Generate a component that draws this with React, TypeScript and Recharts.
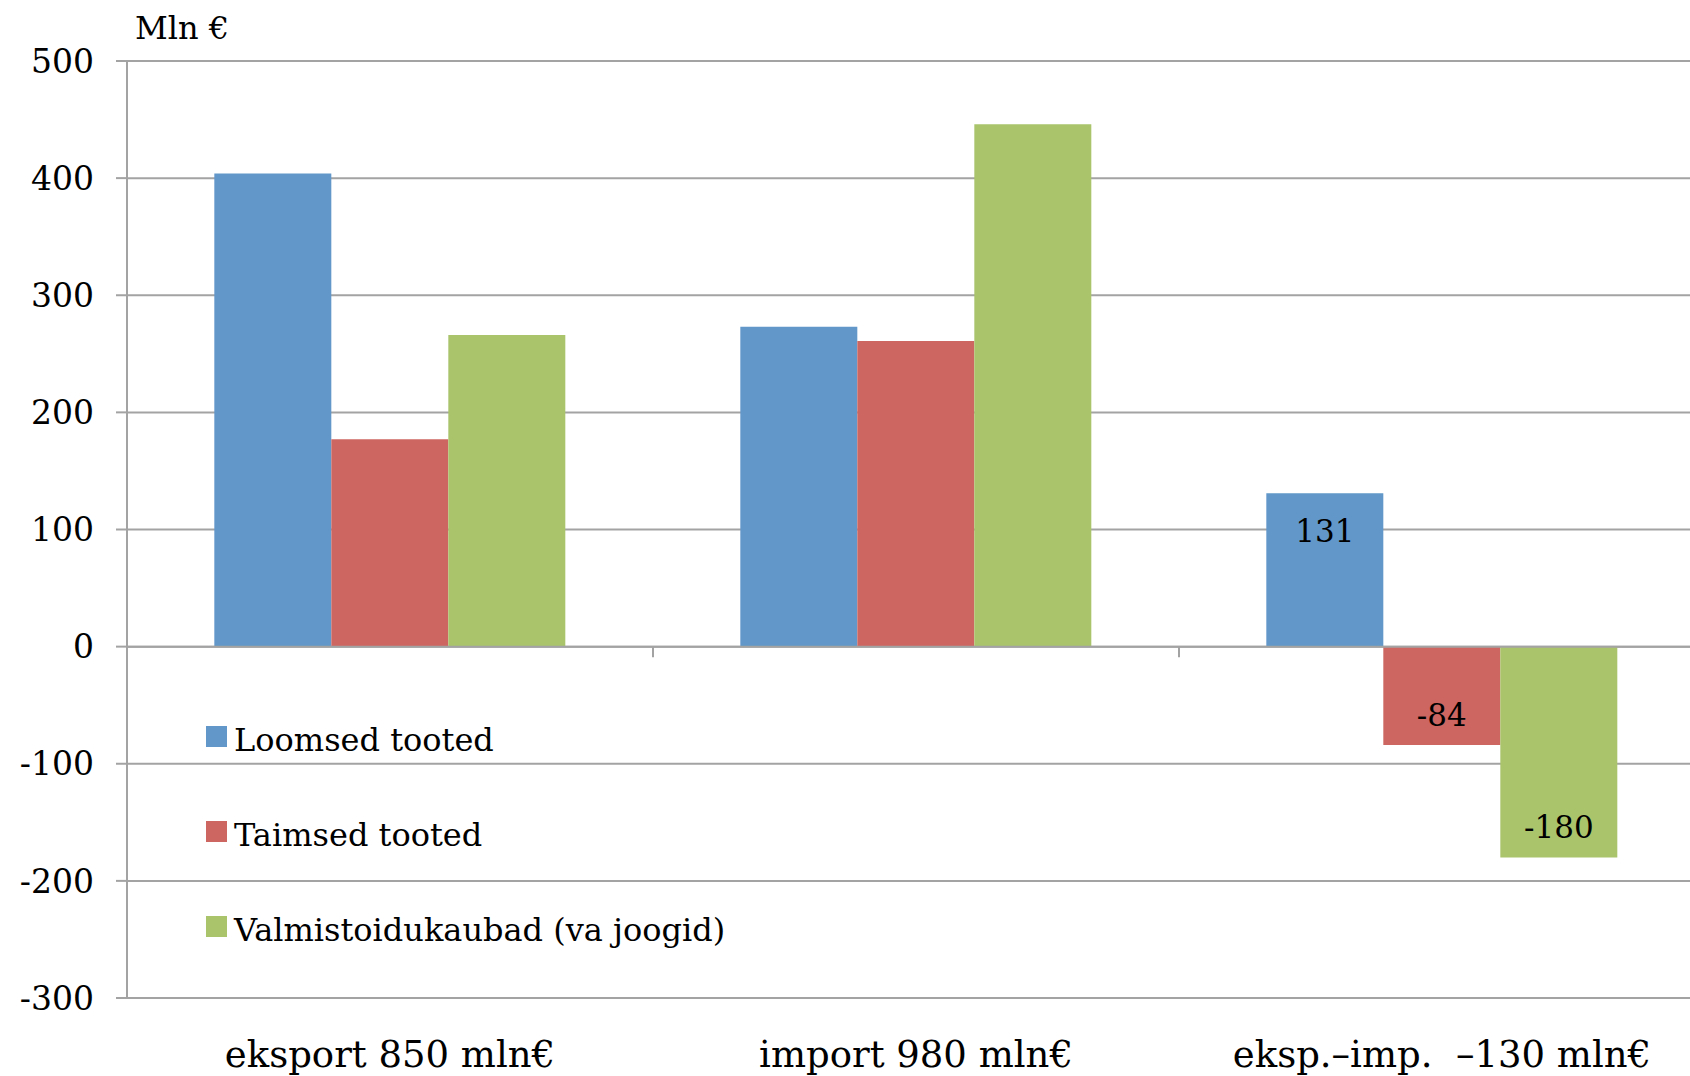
import { Bar, BarChart, CartesianGrid, LabelList, ReferenceLine, XAxis, YAxis } from "recharts";

const categories = ["eksport 850 mln€", "import 980 mln€", "eksp.–imp. \u00A0–130 mln€"];
const loomsed = [404, 273, 131];
const taimsed = [177, 261, -84];
const valmis = [266, 446, -180];
const yTicks = [-300, -200, -100, 0, 100, 200, 300, 400, 500];

const series = [
  { key: "loomsed", name: "Loomsed tooted", color: "#6197C9" },
  { key: "taimsed", name: "Taimsed tooted", color: "#CD6660" },
  { key: "valmis", name: "Valmistoidukaubad (va joogid)", color: "#AAC46B" },
];

const data = categories.map((name, i) => ({
  name,
  loomsed: loomsed[i],
  taimsed: taimsed[i],
  valmis: valmis[i],
}));

const FONT = "Georgia, 'DejaVu Serif', serif";
const GRID = "#A3A3A3";

// only the difference group carries value labels
const diffLabel = (props: any) => {
  const { x, y, width, height, value, index } = props;
  if (index !== 2) return null;
  const top = Math.min(y, y + height);
  const bottom = Math.max(y, y + height);
  const cy = value >= 0 ? top + 38 : bottom - 30;
  return (
    <text
      x={x + width / 2}
      y={cy}
      textAnchor="middle"
      dominantBaseline="central"
      fontFamily={FONT}
      fontSize={31}
      fill="#000"
    >
      {value}
    </text>
  );
};

const LegendBox = () => (
  <div style={{ position: "absolute", left: 206, top: 692, fontFamily: FONT, fontSize: 32, color: "#000" }}>
    {series.map((s) => (
      <div key={s.key} style={{ display: "flex", alignItems: "center", height: 95 }}>
        <span style={{ width: 21, height: 21, background: s.color, marginRight: 7, marginTop: -6 }} />
        <span>{s.name}</span>
      </div>
    ))}
  </div>
);

export default function App() {
  return (
    <div style={{ position: "absolute", left: 0, top: 0, width: 1690, height: 1076, overflow: "hidden", background: "#fff" }}>
      <div style={{ position: "absolute", left: 135, top: 9, fontFamily: FONT, fontSize: 32, color: "#000" }}>
        Mln €
      </div>
      <BarChart
        width={1705}
        height={1076}
        data={data}
        margin={{ top: 61, right: 0, left: 0, bottom: 0 }}
        barCategoryGap="16.6%"
        barGap={0}
      >
        <CartesianGrid vertical={false} stroke={GRID} strokeWidth={2} />
        <XAxis
          dataKey="name"
          height={78}
          axisLine={false}
          tickLine={false}
          tickSize={0}
          tickMargin={43}
          tick={{ fontFamily: FONT, fontSize: 37, fill: "#000" }}
          interval={0}
        />
        <YAxis
          width={127}
          domain={[-300, 500]}
          ticks={yTicks}
          interval={0}
          stroke={GRID}
          strokeWidth={2}
          tickSize={11}
          tickMargin={22}
          tick={{ fontFamily: FONT, fontSize: 33, fill: "#000" }}
        />
        <ReferenceLine y={0} stroke={GRID} strokeWidth={2} />
        {categories.slice(1).map((c) => (
          <ReferenceLine
            key={c}
            position="start"
            segment={[{ x: c, y: 0 }, { x: c, y: -9 }]}
            stroke={GRID}
            strokeWidth={2}
          />
        ))}
        {series.map((s) => (
          <Bar key={s.key} dataKey={s.key} name={s.name} fill={s.color} isAnimationActive={false}>
            <LabelList dataKey={s.key} content={diffLabel} />
          </Bar>
        ))}
      </BarChart>
      <LegendBox />
    </div>
  );
}
